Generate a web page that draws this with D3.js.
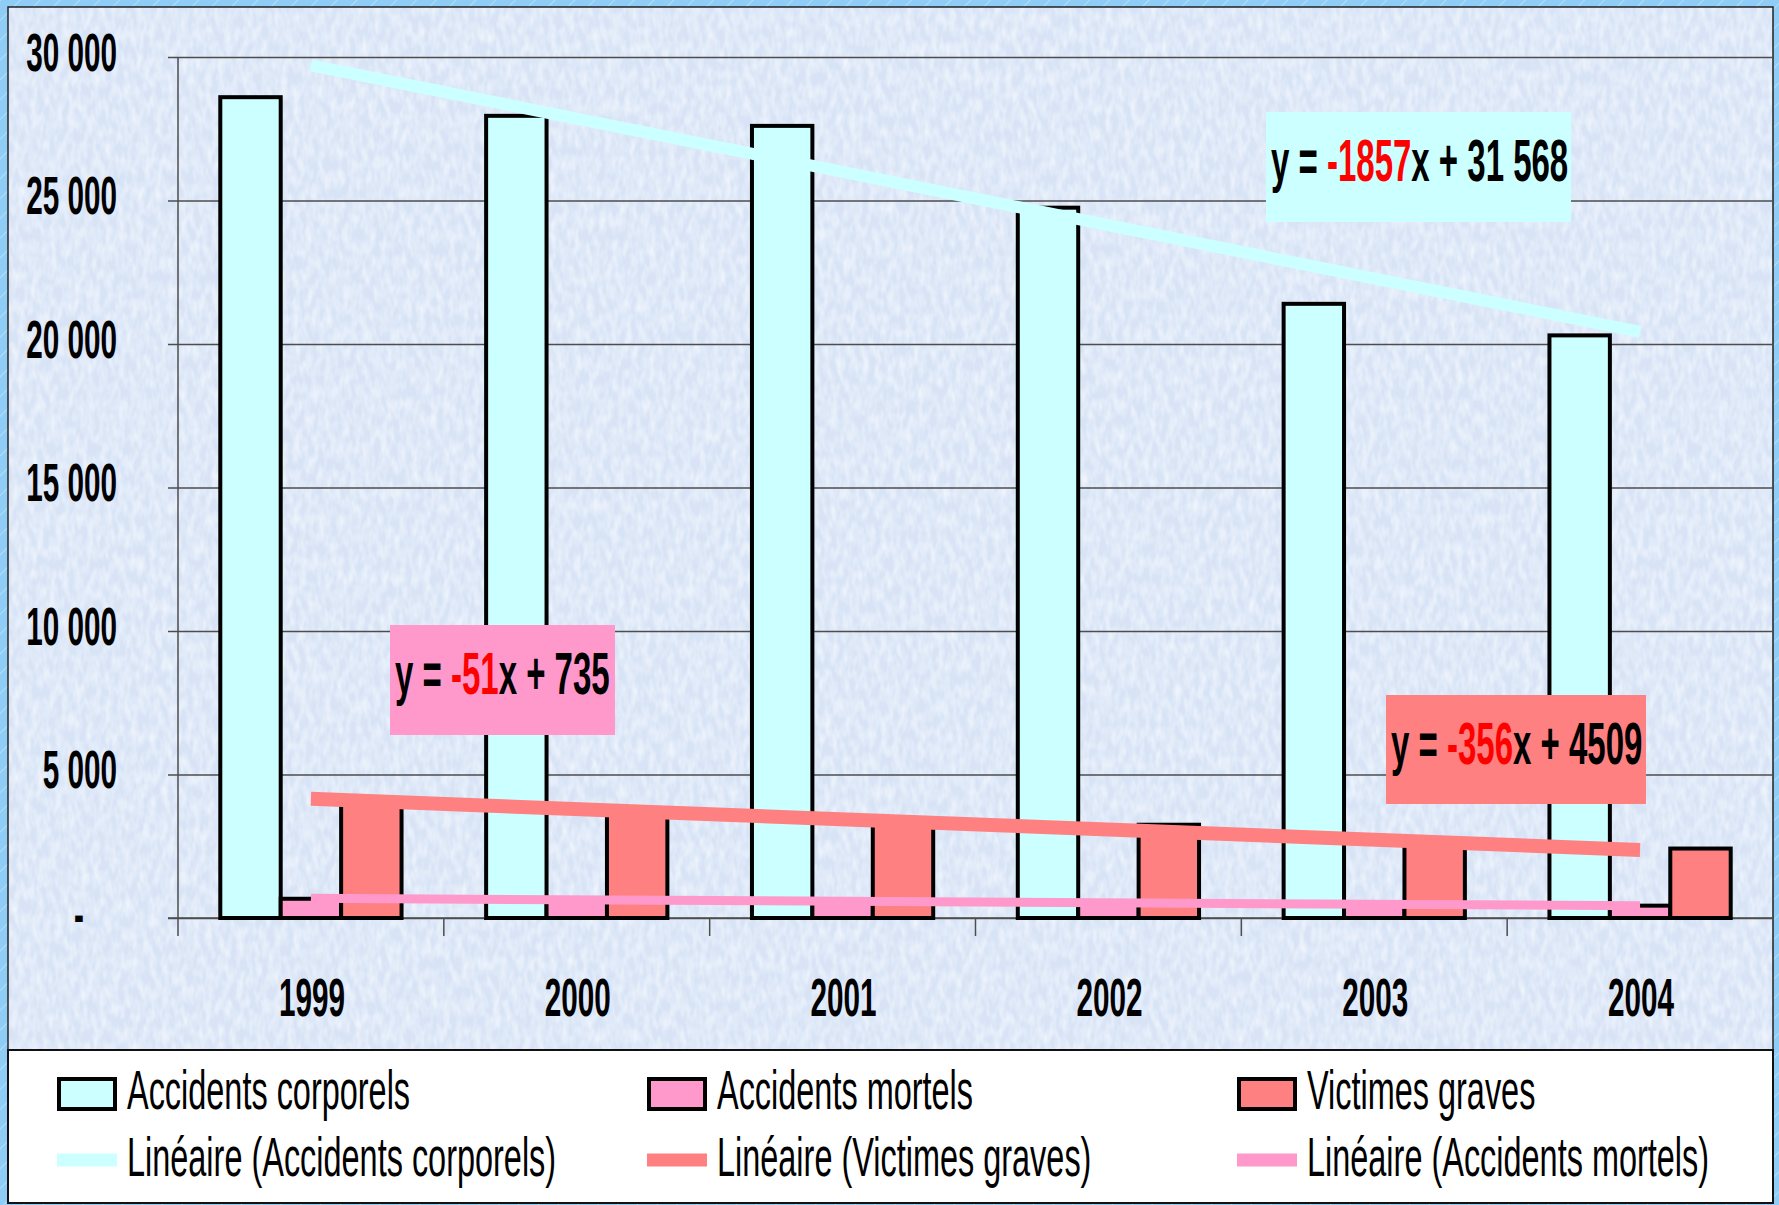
<!DOCTYPE html>
<html>
<head>
<meta charset="utf-8">
<script src="https://cdn.jsdelivr.net/npm/d3@7"></script>
<style>
  body { margin: 0; background: #90cff5; }
  svg { display: block; }
  text { font-family: "Liberation Sans", Arial, sans-serif; white-space: pre; }
</style>
</head>
<body>
<div id="chart"></div>
<script>
// data
const years = ["1999", "2000", "2001", "2002", "2003", "2004"];
const seriesNames = ["Accidents corporels", "Accidents mortels", "Victimes graves"];
const corporels = [28600, 27950, 27600, 24750, 21400, 20300];
const mortels = [670, 640, 620, 480, 470, 430];
const victimes = [4150, 3750, 3450, 3250, 2650, 2420];
const yTicks = [0, 5000, 10000, 15000, 20000, 25000, 30000];

// trend lines shown on the chart (y = a x + b, x = 1..6)
const trendNames = ["Linéaire (Accidents corporels)", "Linéaire (Victimes graves)", "Linéaire (Accidents mortels)"];
const trendSlopes = [-1857, -356, -51];
const trendIntercepts = [31568, 4509, 735];
const trendInterceptLabels = ["31 568", "4509", "735"];

const width = 1779, height = 1205;
const plot = { left: 178, right: 1773, top: 57, bottom: 918 };
const colors = { "Accidents corporels": "#ccffff", "Accidents mortels": "#ff99cc", "Victimes graves": "#ff8080" };
const trendColors = ["#ccffff", "#ff8080", "#ff99cc"];
const trendWidths = [12, 14, 9];
const sxBold = 0.55, sxLegend = 0.59;

const svg = d3.select("#chart").append("svg")
    .attr("width", width)
    .attr("height", height);

// background: stripes on the outer frame, texture in the chart area
const defs = svg.append("defs");
const stripes = defs.append("pattern")
    .attr("id", "stripes")
    .attr("width", 14).attr("height", 14)
    .attr("patternUnits", "userSpaceOnUse")
    .attr("patternTransform", "rotate(45)");
stripes.append("rect").attr("width", 14).attr("height", 14).attr("fill", "#8fcdf6");
stripes.append("line").attr("x1", 0).attr("y1", 0).attr("x2", 0).attr("y2", 14)
    .attr("stroke", "#b3def9").attr("stroke-width", 2);

const noise = defs.append("filter").attr("id", "noise")
    .attr("x", 0).attr("y", 0).attr("width", "100%").attr("height", "100%");
noise.append("feTurbulence")
    .attr("type", "fractalNoise")
    .attr("baseFrequency", "0.16 0.07")
    .attr("numOctaves", 2)
    .attr("seed", 7)
    .attr("result", "t");
noise.append("feColorMatrix")
    .attr("in", "t")
    .attr("type", "matrix")
    .attr("values", "0 0 0 0 0.95  0 0 0 0 0.97  0 0 0 0 1  1.3 0 0 0 -0.45");

svg.append("rect").attr("width", width).attr("height", height).attr("fill", "url(#stripes)");
svg.append("rect")
    .attr("x", 8).attr("y", 7).attr("width", 1765).attr("height", 1043)
    .attr("fill", "#d8e4f6");
svg.append("rect")
    .attr("x", 8).attr("y", 7).attr("width", 1765).attr("height", 1043)
    .attr("filter", "url(#noise)");
svg.append("rect")
    .attr("x", 8).attr("y", 7).attr("width", 1765).attr("height", 1043)
    .attr("fill", "none").attr("stroke", "#222").attr("stroke-width", 1.5);

// scales
const x0 = d3.scaleBand()
    .domain(years)
    .range([plot.left, plot.right])
    .padding(0);

const x1 = d3.scaleBand()
    .domain(seriesNames)
    .range([0, x0.bandwidth()])
    .paddingInner(0)
    .paddingOuter(0.7);

const y = d3.scaleLinear()
    .domain([0, 30000])
    .range([plot.bottom, plot.top]);

const xt = d3.scaleLinear()
    .domain([1, years.length])
    .range([x0(years[0]) + x0.bandwidth() / 2, x0(years[years.length - 1]) + x0.bandwidth() / 2]);

// y axis with gridlines
const yAxis = svg.append("g")
    .attr("transform", `translate(${plot.left},0)`)
    .call(d3.axisLeft(y).tickValues(yTicks).tickSize(10)
        .tickFormat(d => d === 0 ? "-" : d3.format(",")(d).replace(",", " ")));
yAxis.select(".domain").remove();
yAxis.selectAll(".tick line").attr("stroke", "#4d4d4d").attr("stroke-width", 1.5);
yAxis.selectAll(".tick")
    .append("line")
    .attr("x1", 0).attr("x2", plot.right - plot.left)
    .attr("stroke", "#4d4d4d").attr("stroke-width", 1.5);
yAxis.selectAll(".tick text")
    .attr("x", null).attr("dy", null)
    .attr("fill", "#000")
    .style("font-size", "54px").style("font-weight", "bold")
    .attr("text-anchor", d => d === 0 ? "middle" : "end")
    .attr("transform", d => d === 0 ? `translate(-99,14) scale(${sxBold},1)` : `translate(-61,13) scale(${sxBold},1)`);

// axis lines
svg.append("line")
    .attr("x1", plot.left).attr("x2", plot.left)
    .attr("y1", plot.top).attr("y2", plot.bottom + 18)
    .attr("stroke", "#4d4d4d").attr("stroke-width", 1.5);
svg.append("line")
    .attr("x1", plot.left - 10).attr("x2", plot.right)
    .attr("y1", plot.bottom).attr("y2", plot.bottom)
    .attr("stroke", "#4d4d4d").attr("stroke-width", 1.5);
svg.selectAll(".xtick")
    .data(years.slice(1))
    .enter().append("line")
    .attr("class", "xtick")
    .attr("x1", d => x0(d)).attr("x2", d => x0(d))
    .attr("y1", plot.bottom).attr("y2", plot.bottom + 18)
    .attr("stroke", "#4d4d4d").attr("stroke-width", 1.5);

// x labels
const xAxis = svg.append("g")
    .attr("transform", `translate(0,${plot.bottom})`)
    .call(d3.axisBottom(x0).tickSize(0));
xAxis.select(".domain").remove();
xAxis.selectAll(".tick text")
    .attr("y", null).attr("dy", null)
    .attr("fill", "#000")
    .style("font-size", "54px").style("font-weight", "bold")
    .attr("transform", `translate(1,98) scale(${sxBold},1)`);

// bars
const values = { "Accidents corporels": corporels, "Accidents mortels": mortels, "Victimes graves": victimes };
const groups = svg.selectAll(".year")
    .data(years)
    .enter().append("g")
    .attr("class", "year")
    .attr("transform", d => `translate(${x0(d)},0)`);

groups.selectAll("rect")
    .data((d, i) => seriesNames.map(s => ({ s: s, v: values[s][i] })))
    .enter().append("rect")
    .attr("x", d => x1(d.s))
    .attr("y", d => y(d.v))
    .attr("width", x1.bandwidth())
    .attr("height", d => y(0) - y(d.v))
    .attr("fill", d => colors[d.s])
    .attr("stroke", "#000")
    .attr("stroke-width", 4);

// trend lines
trendSlopes.forEach((a, k) => {
    const b = trendIntercepts[k];
    svg.append("line")
        .attr("x1", xt(1)).attr("y1", y(a * 1 + b))
        .attr("x2", xt(years.length)).attr("y2", y(a * years.length + b))
        .attr("stroke", trendColors[k])
        .attr("stroke-width", trendWidths[k]);
});

// equation boxes
const eqBoxes = [
    { k: 0, x: 1266, y: 112, w: 305, h: 110 },
    { k: 1, x: 1386, y: 695, w: 260, h: 109 },
    { k: 2, x: 390, y: 625, w: 225, h: 110 }
];
eqBoxes.forEach(bx => {
    svg.append("rect")
        .attr("x", bx.x).attr("y", bx.y)
        .attr("width", bx.w).attr("height", bx.h)
        .attr("fill", trendColors[bx.k]);
    const t = svg.append("text")
        .attr("transform", `translate(${bx.x + 5},${bx.y + 69}) scale(0.55,1)`)
        .style("font-size", "60px").style("font-weight", "bold");
    t.append("tspan").attr("fill", "#000").text("y = ");
    t.append("tspan").attr("fill", "#ff0000").text(String(trendSlopes[bx.k]));
    t.append("tspan").attr("fill", "#000").text("x + " + trendInterceptLabels[bx.k]);
});

// legend
svg.append("rect")
    .attr("x", 8).attr("y", 1050).attr("width", 1765).attr("height", 153)
    .attr("fill", "#fff").attr("stroke", "#111").attr("stroke-width", 2);

const legendCols = [57, 647, 1237];
seriesNames.forEach((s, i) => {
    svg.append("rect")
        .attr("x", legendCols[i] + 2).attr("y", 1079)
        .attr("width", 56).attr("height", 30)
        .attr("fill", colors[s]).attr("stroke", "#000").attr("stroke-width", 4);
    svg.append("text")
        .attr("transform", `translate(${legendCols[i] + 70},1109) scale(${sxLegend},1)`)
        .style("font-size", "55px")
        .text(s);
});
trendNames.forEach((s, i) => {
    svg.append("line")
        .attr("x1", legendCols[i]).attr("x2", legendCols[i] + 60)
        .attr("y1", 1160).attr("y2", 1160)
        .attr("stroke", trendColors[i]).attr("stroke-width", 13);
    svg.append("text")
        .attr("transform", `translate(${legendCols[i] + 70},1176) scale(${sxLegend},1)`)
        .style("font-size", "55px")
        .text(s);
});
</script>
</body>
</html>
